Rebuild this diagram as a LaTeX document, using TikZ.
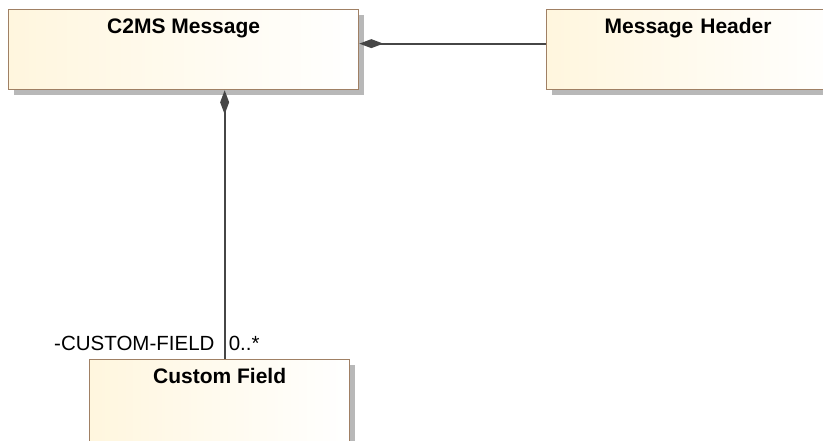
\documentclass[tikz,border=0pt]{standalone}
\usepackage{fontspec}
\setmainfont{Liberation Sans}
\usetikzlibrary{arrows.meta,shadows}
\definecolor{boxborder}{RGB}{160,128,100}
\definecolor{boxfill}{RGB}{255,246,222}
\definecolor{linegray}{RGB}{70,70,70}
\tikzset{
  umlclass/.style={draw=boxborder, line width=1.3pt, left color=boxfill, right color=white,
    inner xsep=0pt, inner ysep=0pt, text height=24pt, text depth=56pt,
    font=\fontsize{21}{25}\selectfont\bfseries,
    drop shadow={shadow xshift=5pt, shadow yshift=-5pt, fill=black!35, opacity=0.8}},
  comp/.style={draw=linegray, line width=2pt, {Diamond[length=24pt,width=9pt,fill=linegray]}-},
  rolelabel/.style={font=\fontsize{20.5}{24}\selectfont, inner sep=0pt}
}
\begin{document}
\begin{tikzpicture}[x=1pt,y=1pt]
\useasboundingbox (0,0) rectangle (823,441);
\node[umlclass, minimum width=300pt, anchor=north west, text width=300pt, align=center] (header) at (546,432) {Message Header\hspace*{17pt}\mbox{}};
\node[umlclass, minimum width=350pt, anchor=north west] (c2ms) at (8,432) {C2MS Message};
\node[umlclass, minimum width=260pt, text depth=62pt, anchor=north west] (cf) at (89,82) {Custom Field};
\draw[comp] ([yshift=6pt]c2ms.east) -- ([yshift=6pt]c2ms.east -| header.west);
\draw[comp] ([xshift=41pt]c2ms.south) -- ([xshift=41pt]c2ms.south |- cf.north) coordinate (cfend);
\node[rolelabel, anchor=base east] (role) at ([xshift=-10pt,yshift=8pt]cfend) {-CUSTOM-FIELD};
\node[rolelabel, anchor=base west] (mult) at ([xshift=4pt,yshift=8pt]cfend) {0..*};
\end{tikzpicture}
\end{document}
